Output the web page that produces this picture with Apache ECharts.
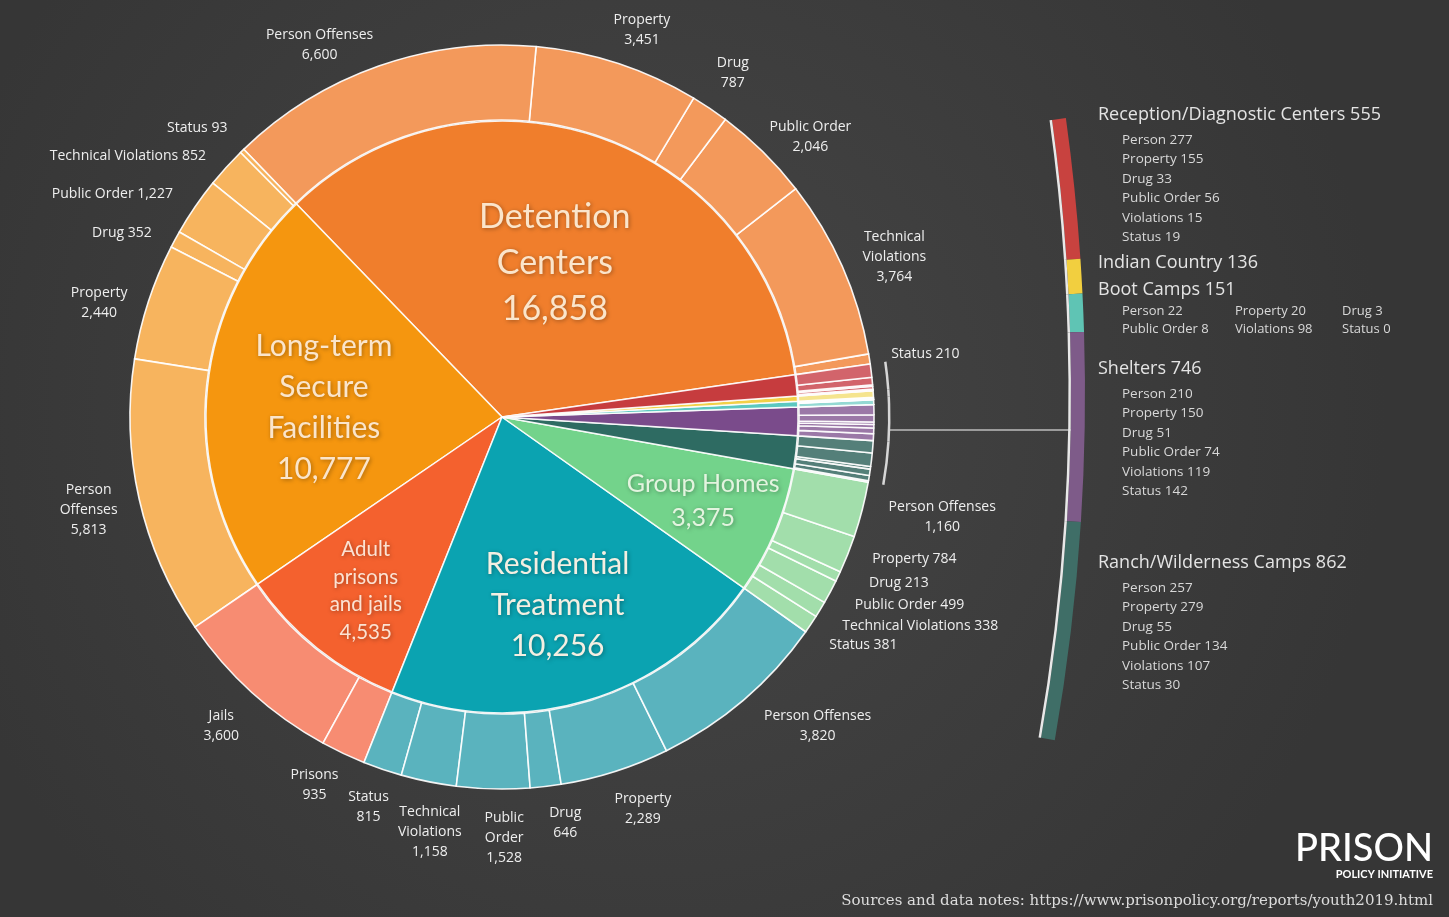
<!DOCTYPE html>
<html>
<head>
<meta charset="utf-8">
<script src="https://cdn.jsdelivr.net/npm/echarts/dist/echarts.min.js"></script>
<style>
html,body{margin:0;padding:0;background:#3d3d3d;}
#chart{width:1449px;height:917px;}
</style>
</head>
<body>
<div id="chart"></div>
<script>
// ---------------- DATA ----------------
const groups = ['Detention Centers','Long-term Secure Facilities','Adult prisons and jails','Residential Treatment','Group Homes','Ranch/Wilderness Camps','Shelters','Boot Camps','Indian Country','Reception/Diagnostic Centers'];
const groupTotals = [16858, 10777, 4535, 10256, 3375, 862, 746, 151, 136, 555];
const innerLabelNames = ['Detention\nCenters','Long-term\nSecure\nFacilities','Adult\nprisons\nand jails','Residential\nTreatment','Group Homes'];

const offenseTypes = ['Status','Technical Violations','Public Order','Drug','Property','Person Offenses'];
const adultTypes = ['Jails','Prisons'];
const detention   = [210, 3764, 2046, 787, 3451, 6600];
const longTerm    = [93, 852, 1227, 352, 2440, 5813];
const adult       = [3600, 935];
const residential = [815, 1158, 1528, 646, 2289, 3820];
const groupHomes  = [381, 338, 499, 213, 784, 1160];
const ranch       = [30, 107, 134, 55, 279, 257];
const shelters    = [142, 119, 74, 51, 150, 210];
const boot        = [0, 98, 8, 3, 20, 22];
const indian      = [136];
const reception   = [19, 15, 56, 33, 155, 277];

const legendShort = ['Status','Violations','Public Order','Drug','Property','Person'];

// ---------------- STYLE / LAYOUT ----------------
const CX = 502, CY = 417, R_IN = 296, R_OUT = 372, LABEL_GAP = 22;
const START = 8.2;
const FONT = "Lato, 'Open Sans', sans-serif";
const SFONT = "'Open Sans', Lato, sans-serif";
const innerColors = ['#F07E2C','#F5960F','#F4612E','#0BA3B1','#73D38B','#2E6B62','#7A4B8B','#5CC8C0','#F2D048','#C63C3E'];
const outerColors = ['#F3995B','#F7B45E','#F78C72','#5AB3BE','#A2DEAB','#547F79','#9B78A7','#94D9D3','#F5E48E','#D2646B'];
const arcColors   = {5:'#3F6E67', 6:'#7E5B89', 7:'#5FC4B4', 8:'#F2CF3F', 9:'#C8423F'};
const innerLabelRadius = [163, 179, 218, 196, 218];
const innerLabelShift  = [[0,0],[0,9],[0,4],[0,0],[0,0]];
const innerLabelStyle = ['xl','l','s','lr','m'];

const outerLabelNames = [
  ['Status','Technical\nViolations','Public Order','Drug','Property','Person Offenses'],
  ['Status','Technical Violations','Public Order','Drug','Property','Person\nOffenses'],
  ['Jails','Prisons'],
  ['Status','Technical\nViolations','Public\nOrder','Drug','Property','Person Offenses'],
  ['Status','Technical Violations','Public Order','Drug','Property','Person Offenses']
];
const outerLabelInline = [[1,0,0,0,0,0],[1,1,1,1,0,0],[0,0],[0,0,0,0,0,0],[1,1,1,1,1,0]];
// small hand-placement nudges of individual labels [dx, dy]
const outerLabelNudge = {
  '0-5': [-33, 17], '0-2': [-8, 18], '0-1': [0, 11], '0-4': [8, 4],
  '1-4': [0, 14], '1-1': [-4, 10], '1-3': [-4, 8], '1-2': [-4, 4],
  '2-1': [-8, -5],
  '3-1': [12, 2], '3-2': [12, 0], '3-3': [15, -2], '3-4': [12, 0], '3-5': [14, -8],
  '4-5': [5, -2], '4-4': [4, -6], '4-3': [11, -6], '4-2': [5, -1], '4-1': [3, 1], '4-0': [0, 4]
};

const childValues = [detention, longTerm, adult, residential, groupHomes, ranch, shelters, boot, indian, reception];
const childNames  = [offenseTypes, offenseTypes, adultTypes, offenseTypes, offenseTypes, offenseTypes, offenseTypes, offenseTypes, ['Indian Country'], offenseTypes];

const fmt = v => v.toLocaleString('en-US');

// ---------------- BUILD SERIES DATA ----------------
const innerData = groups.map((g, i) => ({
  name: g, value: groupTotals[i],
  itemStyle: {color: innerColors[i]},
  label: {show: i < 5}
}));

const outerData = [];
const outerKeys = [];
childValues.forEach((vals, gi) => {
  vals.forEach((v, ci) => {
    const show = gi < 5;
    let txt = '';
    if (show) {
      txt = outerLabelNames[gi][ci] + (outerLabelInline[gi][ci] ? ' ' : '\n') + fmt(v);
    }
    outerKeys.push(gi + '-' + ci);
    outerData.push({
      name: groups[gi] + ' - ' + childNames[gi][ci], value: v,
      itemStyle: {color: outerColors[gi]},
      label: {show: show, formatter: txt.split('\n').map(l => '{c|' + l + '}').join('\n')}
    });
  });
});

const bracketData = groups.map((g, i) => ({
  name: g, value: groupTotals[i],
  itemStyle: {color: i >= 5 ? '#d6d6d6' : 'rgba(0,0,0,0)'}
}));

// zoomed arc on the right
const zoomOrder = [9, 8, 7, 6, 5];
const ARC_CX = -915, ARC_CY = 394, ARC_R = 2000, ARC_W = 14, ARC_TOP = 7.93, ARC_SPAN = 17.9;
const zoomSum = zoomOrder.reduce((s, i) => s + groupTotals[i], 0);
const filler = zoomSum * (360 / ARC_SPAN - 1);
const arcData = zoomOrder.map(i => ({name: groups[i], value: groupTotals[i], itemStyle: {color: arcColors[i]}}))
  .concat([{name: 'rest', value: filler, itemStyle: {color: 'rgba(0,0,0,0)'}}]);
const arcEdgeData = zoomOrder.map(i => ({name: groups[i], value: groupTotals[i], itemStyle: {color: '#e8e8e8'}}))
  .concat([{name: 'rest', value: filler, itemStyle: {color: 'rgba(0,0,0,0)'}}]);

// ---------------- GRAPHICS (legend text, connector, logo) ----------------
const legendHeaderY = [115, 263, 290, 369, 563];
const graphics = [];
function addText(x, y, text, font, fill, align) {
  graphics.push({type: 'text', x: x, y: y, silent: true,
    style: {text: text, font: font, fill: fill, align: align || 'left', verticalAlign: 'middle',
            textAlign: align || 'left', textVerticalAlign: 'middle'}});
}
zoomOrder.forEach((gi, k) => {
  const y0 = legendHeaderY[k];
  addText(1098, y0, groups[gi] + ' ' + fmt(groupTotals[gi]), '18px ' + SFONT, '#e4e4e4');
  const vals = childValues[gi];
  if (vals.length < 2) return;
  const items = [];
  for (let c = vals.length - 1; c >= 0; c--) items.push(legendShort[c] + ' ' + fmt(vals[c]));
  if (gi === 7) {
    const colsX = [1122, 1235, 1342];
    items.forEach((t, j) => addText(colsX[j % 3], y0 + 21 + Math.floor(j / 3) * 18, t, '13px ' + SFONT, '#d8d8d8'));
  } else {
    items.forEach((t, j) => addText(1122, y0 + 25 + j * 19.5, t, '13.5px ' + SFONT, '#d8d8d8'));
  }
});
graphics.push({type: 'line', silent: true, shape: {x1: 889, y1: 430, x2: 1071, y2: 430},
  style: {stroke: '#bdbdbd', lineWidth: 1.5}});
addText(1433, 849, 'PRISON', '500 38px ' + FONT, '#ffffff', 'right');
addText(1433, 874, 'POLICY INITIATIVE', 'bold 11px ' + FONT, '#ffffff', 'right');
addText(1433, 901, 'Sources and data notes: https://www.prisonpolicy.org/reports/youth2019.html', "15px 'DejaVu Serif', 'Liberation Serif', serif", '#dcdcdc', 'right');

// ---------------- LABEL LAYOUT ----------------
function innerLayout(p) {
  const r = innerLabelRadius[p.dataIndex];
  if (!r || !p.labelRect) return {};
  const mx = p.labelRect.x + p.labelRect.width / 2, my = p.labelRect.y + p.labelRect.height / 2;
  const a = Math.atan2(my - CY, mx - CX);
  const sh = innerLabelShift[p.dataIndex];
  return {x: CX + r * Math.cos(a) + sh[0], y: CY + r * Math.sin(a) + sh[1], align: 'center', verticalAlign: 'middle'};
}
function outerLayout(p) {
  const pts = p.labelLinePoints;
  if (!pts || !p.labelRect) return {};
  const a = Math.atan2(pts[0][1] - CY, pts[0][0] - CX);
  const c = Math.cos(a), s = Math.sin(a), m = Math.max(Math.abs(c), Math.abs(s));
  const R = R_OUT + LABEL_GAP;
  const w = p.labelRect.width, h = p.labelRect.height;
  const n = outerLabelNudge[outerKeys[p.dataIndex]] || [0, 0];
  return {x: CX + R * c + w / 2 * c / m + n[0], y: CY + R * s + h / 2 * s / m + n[1], align: 'center', verticalAlign: 'middle'};
}

const shadow = {textShadowColor: 'rgba(0,0,0,0.35)', textShadowBlur: 4, textShadowOffsetX: 1, textShadowOffsetY: 1};
function rs(size, lh, color) {
  return Object.assign({fontSize: size, lineHeight: lh, color: color, fontFamily: FONT, align: 'center'}, shadow);
}

const chart = echarts.init(document.getElementById('chart'), null, {renderer: 'canvas'});
chart.setOption({
  backgroundColor: {type: 'radial', x: 0.45, y: 0.45, r: 0.8,
    colorStops: [{offset: 0, color: '#464646'}, {offset: 1, color: '#363636'}]},
  animation: false,
  graphic: {elements: graphics},
  series: [
    {
      type: 'pie', name: 'inner', silent: true, center: [CX, CY], radius: [0, R_IN],
      startAngle: START, clockwise: false, avoidLabelOverlap: false,
      emphasis: {disabled: true},
      itemStyle: {borderColor: 'rgba(255,255,255,0.9)', borderWidth: 1.5},
      label: {
        position: 'inside',
        formatter: p => {
          const k = innerLabelStyle[p.dataIndex];
          return (innerLabelNames[p.dataIndex] + '\n' + fmt(p.value)).split('\n').map(l => '{' + k + '|' + l + '}').join('\n');
        },
        rich: {
          xl: rs(34, 46, '#FBE5CB'),
          l: rs(30, 41, '#FBE5CB'),
          lr: rs(30, 41, '#F4EFE2'),
          s: rs(20.5, 27.5, '#FCE2D2'),
          m: rs(25, 34, '#E3F4DF')
        }
      },
      labelLine: {show: false},
      labelLayout: innerLayout,
      data: innerData
    },
    {
      type: 'pie', name: 'outer', silent: true, center: [CX, CY], radius: [R_IN + 1, R_OUT],
      startAngle: START, clockwise: false, avoidLabelOverlap: false,
      emphasis: {disabled: true},
      itemStyle: {borderColor: 'rgba(255,255,255,0.92)', borderWidth: 1.6},
      label: {
        position: 'outside', alignTo: 'none',
        rich: {c: {fontSize: 14, lineHeight: 20, color: '#eeeeee', fontFamily: SFONT, align: 'center'}}
      },
      labelLine: {show: true, length: 10, length2: 0, lineStyle: {color: 'rgba(0,0,0,0)', opacity: 0}},
      labelLayout: outerLayout,
      data: outerData
    },
    {
      type: 'pie', name: 'bracket', silent: true, center: [CX, CY], radius: [386, 388.5],
      startAngle: START, clockwise: false, emphasis: {disabled: true},
      label: {show: false}, labelLine: {show: false}, itemStyle: {borderWidth: 0},
      data: bracketData
    },
    {
      type: 'pie', name: 'arc', silent: true, center: [ARC_CX, ARC_CY], radius: [ARC_R - ARC_W, ARC_R],
      startAngle: ARC_TOP, clockwise: true, emphasis: {disabled: true},
      label: {show: false}, labelLine: {show: false}, itemStyle: {borderWidth: 0},
      data: arcData
    },
    {
      type: 'pie', name: 'arcEdge', silent: true, center: [ARC_CX, ARC_CY], radius: [ARC_R - ARC_W - 2.5, ARC_R - ARC_W],
      startAngle: ARC_TOP, clockwise: true, emphasis: {disabled: true},
      label: {show: false}, labelLine: {show: false}, itemStyle: {borderWidth: 0},
      data: arcEdgeData
    }
  ]
});
</script>
</body>
</html>
